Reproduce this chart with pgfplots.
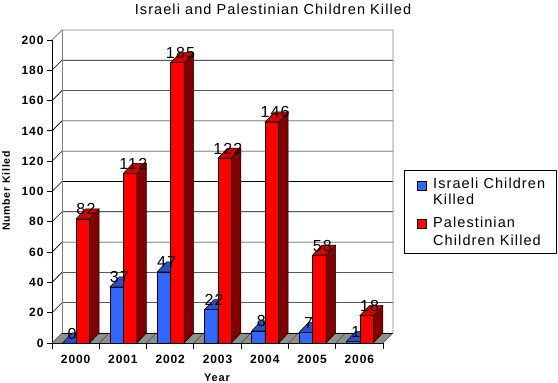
\documentclass[border=0pt]{standalone}
\usepackage{fontspec}
\setmainfont{Liberation Sans}[LetterSpace=7.5]
\usepackage{pgfplots}
\usepackage{pgfplotstable}
\pgfplotsset{compat=1.18}

\definecolor{isrfront}{RGB}{51,102,255}
\definecolor{isrtop}{RGB}{40,80,200}
\definecolor{isrside}{RGB}{30,60,150}
\definecolor{palfront}{RGB}{255,0,0}
\definecolor{paltop}{RGB}{215,0,0}
\definecolor{palside}{RGB}{128,0,0}
\definecolor{floorgray}{RGB}{143,143,143}
\definecolor{wallgray}{RGB}{128,128,128}

\pgfplotstableread{
x isr pal
0 0 82
1 37 112
2 47 185
3 22 122
4 8 146
5 7 58
6 1 18
}\data

\newcommand\prism[4]{%
  \pgfmathsetmacro\pH{\rawv*1.515}%
  \pgfmathsetmacro\pL{#1-6.75}%
  \pgfmathsetmacro\pR{#1+6.75}%
  \pgfmathsetmacro\pRR{\pR+9.5}%
  \pgfmathsetmacro\pLL{\pL+9.5}%
  \pgfmathsetmacro\pB{-\pH}%
  \pgfmathsetmacro\pBB{-\pH+10}%
  \pgfsetlinewidth{0.5bp}%
  \pgfsetstrokecolor{black}%
  \pgfsetfillcolor{#2}%
  \pgfpathrectanglecorners{\pgfpoint{\pL bp}{\pB bp}}{\pgfpoint{\pR bp}{0bp}}%
  \pgfusepath{fill,stroke}%
  \pgfsetfillcolor{#4}%
  \pgfpathmoveto{\pgfpoint{\pR bp}{\pB bp}}%
  \pgfpathlineto{\pgfpoint{\pRR bp}{\pBB bp}}%
  \pgfpathlineto{\pgfpoint{\pRR bp}{10bp}}%
  \pgfpathlineto{\pgfpoint{\pR bp}{0bp}}%
  \pgfpathclose
  \pgfusepath{fill,stroke}%
  \pgfsetfillcolor{#3}%
  \pgfpathmoveto{\pgfpoint{\pL bp}{0bp}}%
  \pgfpathlineto{\pgfpoint{\pR bp}{0bp}}%
  \pgfpathlineto{\pgfpoint{\pRR bp}{10bp}}%
  \pgfpathlineto{\pgfpoint{\pLL bp}{10bp}}%
  \pgfpathclose
  \pgfusepath{fill,stroke}%
}
\pgfdeclareplotmark{isrbar}{\prism{-6.3}{isrfront}{isrtop}{isrside}}
\pgfdeclareplotmark{palbar}{\prism{7.2}{palfront}{paltop}{palside}}

\begin{document}
\begin{tikzpicture}
\useasboundingbox (0,0) rectangle (558bp,383bp);
\begin{axis}[
  at={(52bp,40bp)}, anchor=south west,
  scale only axis, width=331bp, height=303bp,
  xmin=-0.5, xmax=6.5, ymin=0, ymax=200,
  clip=false,
  axis x line*=bottom, axis y line*=left,
  axis line style={black, line width=0.8bp},
  tick align=outside,
  ytick={0,20,...,200},
  major tick length=5bp,
  tick style={black, line width=0.8bp},
  xtick={0,...,6},
  xticklabels={2000,2001,2002,2003,2004,2005,2006},
  major x tick style={draw=none},
  minor xtick={-0.5,0.5,...,6.5},
  minor tick length=6bp,
  minor x tick style={black, line width=0.8bp},
  /pgf/number format/assume math mode=true,
  yticklabel style={font=\bfseries\fontsize{12bp}{14bp}\selectfont},
  xticklabel style={font=\bfseries\fontsize{12bp}{14bp}\selectfont, yshift=-4bp},
]
% back wall and floor
\fill[floorgray] (axis cs:-0.5,0) -- (axis cs:6.5,0) -- ++(10bp,10bp) -- ([shift={(10bp,10bp)}]axis cs:-0.5,0) -- cycle;
\pgfplotsinvokeforeach{-0.5,0.5,...,6.5}{
  \draw[black!70, line width=0.6bp] (axis cs:#1,0) -- ++(10bp,10bp);
}
\draw[black, line width=0.6bp] ([shift={(10bp,10bp)}]axis cs:-0.5,0) -- ([shift={(10bp,10bp)}]axis cs:6.5,0);
\pgfplotsinvokeforeach{20,40,...,180}{
  \draw[black, line width=0.6bp] (axis cs:-0.5,#1) -- ++(10bp,10bp) -- ([shift={(10bp,10bp)}]axis cs:6.5,#1);
}
\draw[wallgray, line width=0.8bp] (axis cs:-0.5,200) -- ++(10bp,10bp) -- ([shift={(10bp,10bp)}]axis cs:6.5,200) -- ([shift={(10bp,10bp)}]axis cs:6.5,0);
\draw[wallgray, line width=0.8bp] ([shift={(10bp,10bp)}]axis cs:-0.5,0) -- ([shift={(10bp,10bp)}]axis cs:-0.5,200);

\addplot[scatter, only marks, mark=isrbar,
  scatter/@pre marker code/.code={}, scatter/@post marker code/.code={},
  visualization depends on={rawy\as\rawv}] table[x=x,y=isr]{\data};
\addplot[scatter, only marks, mark=palbar,
  scatter/@pre marker code/.code={}, scatter/@post marker code/.code={},
  visualization depends on={rawy\as\rawv}] table[x=x,y=pal]{\data};

\addplot[draw=none, nodes near coords, point meta=explicit symbolic,
  every node near coord/.append style={anchor=center, xshift=-3.5bp, yshift=9.5bp, inner sep=0pt, font=\fontsize{16bp}{18bp}\selectfont}]
  table[x=x,y=isr,meta=isr]{\data};
\addplot[draw=none, nodes near coords, point meta=explicit symbolic,
  every node near coord/.append style={anchor=center, xshift=10.3bp, yshift=9.5bp, inner sep=0pt, font=\fontsize{16bp}{18bp}\selectfont}]
  table[x=x,y=pal,meta=pal]{\data};
\end{axis}

% title and axis titles
\node[font=\fontsize{14.5bp}{17bp}\selectfont, anchor=center] at (273bp,374bp) {Israeli and Palestinian Children Killed};
\node[font=\bfseries\fontsize{11bp}{13bp}\selectfont, anchor=center] at (217bp,5bp) {Year};
\node[font=\bfseries\fontsize{10.5bp}{13bp}\selectfont, anchor=center, rotate=90] at (6bp,192bp) {Number Killed};

% legend
\draw[black, line width=0.8bp] (404bp,130bp) rectangle (556bp,213bp);
\draw[black, line width=0.6bp, fill=isrfront] (417bp,193bp) rectangle (426bp,202bp);
\draw[black, line width=0.6bp, fill=palfront] (417bp,155bp) rectangle (426bp,164bp);
\begin{scope}[every node/.style={anchor=base west, inner sep=0pt, font=\fontsize{14.5bp}{17bp}\selectfont}]
\node at (433bp,194bp) {Israeli Children};
\node at (433bp,178bp) {Killed};
\node at (433bp,155bp) {Palestinian};
\node at (433bp,137bp) {Children Killed};
\end{scope}
\end{tikzpicture}
\end{document}
